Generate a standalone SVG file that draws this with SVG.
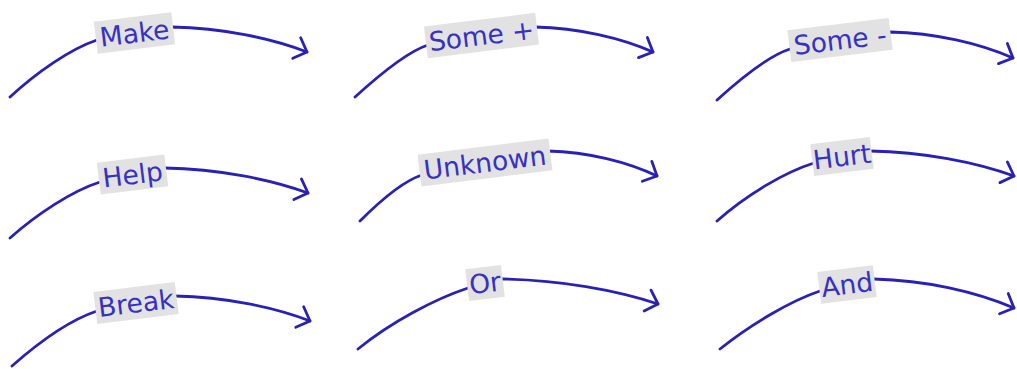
<svg xmlns="http://www.w3.org/2000/svg" width="1017" height="369" viewBox="0 0 1017 369">
<style>
.c{fill:none;stroke:#2a20b4;stroke-width:2.8;stroke-linecap:round;marker-end:url(#arr)}
.b{fill:#e2e2e2}
.t{font-family:"DejaVu Sans",sans-serif;font-size:26.5px;fill:#3631c2;text-anchor:middle}
</style>
<defs>
<marker id="arr" markerUnits="userSpaceOnUse" markerWidth="24" markerHeight="28" viewBox="0 0 24 28" refX="14" refY="14" orient="auto" overflow="visible">
<path d="M3,3 L14,14 L3,25" fill="none" stroke="#2a20b4" stroke-width="2.8" stroke-linecap="round" stroke-linejoin="round"/>
</marker>
</defs>
<rect width="1017" height="369" fill="#ffffff"/>
<g id="connectors">
<path class="c" d="M10,97 C36,73 70,49 97,40 L172,27 C222,28 270.5,38 307,52"/>
<path class="c" d="M355,97 C377,77 406,52 428,45 L535,27 C578.7,28 621.1,38 653,52"/>
<path class="c" d="M717,100 C739,80 768,56 790,49 L890,32 C935.5,33 979.8,43.4 1013,58"/>
<path class="c" d="M10,238 C37,214 72,191 100,182 L165,168 C217.9,169 269.4,179 308,193"/>
<path class="c" d="M360,221 C379,202 403,181 422,175 L548,151 C588.3,152 627.6,162 657,176"/>
<path class="c" d="M717,221 C746,195 785,172 814,163 L870,151 C923.3,152 975.1,162 1014,176"/>
<path class="c" d="M12,366 C38,343 70,320 97,311 L175,296 C225,297 273.5,307 310,321"/>
<path class="c" d="M358,349 C391,322 435,299 468,288 L502,279 C559.7,280 615.9,290 658,304"/>
<path class="c" d="M720,349 C750,325 790,301 820,291 L874,279 C925.8,280.2 976.2,291.8 1014,308"/>
</g>
<g id="make" transform="translate(134.5,33) rotate(-7)"><rect class="b" x="-39" y="-16" width="78" height="32"/><text class="t" y="9.5">Make</text></g>
<g id="some-plus" transform="translate(481.5,35.5) rotate(-7)"><rect class="b" x="-56" y="-16" width="112" height="32"/><text class="t" y="9.5">Some +</text></g>
<g id="some-minus" transform="translate(840,40) rotate(-7)"><rect class="b" x="-51" y="-16" width="102" height="32"/><text class="t" y="9.5">Some -</text></g>
<g id="help" transform="translate(132.5,174.5) rotate(-7)"><rect class="b" x="-34" y="-16" width="68" height="32"/><text class="t" y="9.5">Help</text></g>
<g id="unknown" transform="translate(485,162.5) rotate(-7)"><rect class="b" x="-66" y="-16" width="132" height="32"/><text class="t" y="9.5">Unknown</text></g>
<g id="hurt" transform="translate(842,156.5) rotate(-7)"><rect class="b" x="-30" y="-16" width="60" height="32"/><text class="t" y="9.5">Hurt</text></g>
<g id="break" transform="translate(136,303) rotate(-7)"><rect class="b" x="-41" y="-16" width="82" height="32"/><text class="t" y="9.5">Break</text></g>
<g id="or" transform="translate(485,283) rotate(-7)"><rect class="b" x="-18" y="-16" width="36" height="32"/><text class="t" y="9.5">Or</text></g>
<g id="and" transform="translate(847,284.5) rotate(-7)"><rect class="b" x="-28" y="-16" width="56" height="32"/><text class="t" y="9.5">And</text></g>
</svg>
